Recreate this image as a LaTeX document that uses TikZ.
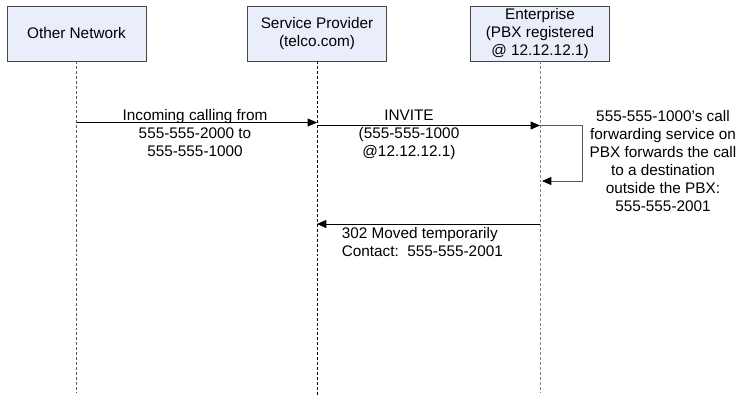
\documentclass[tikz,border=0pt]{standalone}
\usepackage{fontspec}
\setmainfont{Liberation Sans}
\usetikzlibrary{arrows.meta, calc}

\definecolor{boxfill}{RGB}{234,238,250}
\definecolor{boxline}{RGB}{70,70,70}

\tikzset{
	party/.style={draw=boxline, fill=boxfill, minimum width=104pt, minimum height=41pt,
		inner sep=1pt, align=center, font=\fontsize{11.5}{13.5}\selectfont},
	lifeline/.style={dash pattern=on 2.2pt off 1.5pt, line width=0.6pt},
	msg/.style={-{Triangle[length=7pt,width=6pt,color=black]}, line width=0.6pt},
	msgtext/.style={align=center, inner sep=0pt, font=\fontsize{11.5}{13.5}\selectfont}
}

\begin{document}
\begin{tikzpicture}[x=0.75pt, y=-0.75pt, line cap=butt]

\useasboundingbox (0,0) rectangle (745,397);

% Parties
\node[party] (other) at (76.5,33.5) {Other Network};
\node[party] (telco) at (317,33.5) {Service Provider\\(telco.com)};
\node[party] (pbx)   at (540,33.5) {Enterprise\\(PBX registered\\@ 12.12.12.1)};

%Coordinates
\coordinate (otherEnd) at (other.south |- 0,393);
\coordinate (telcoEnd) at (telco.south |- 0,396);
\coordinate (pbxEnd)   at (pbx.south |- 0,393);

\coordinate (m1s) at (other.south |- 0,122.5);
\coordinate (m1e) at (telco.south |- 0,122.5);
\coordinate (m2s) at (telco.south |- 0,125.5);
\coordinate (m2e) at (pbx.south |- 0,125.5);
\coordinate (loopA) at (582,125.5);
\coordinate (loopB) at (582,181);
\coordinate (loopE) at ($(pbx.south |- 0,181)+(2,0)$);
\coordinate (m3s) at (pbx.south |- 0,224);
\coordinate (m3e) at (telco.south |- 0,224);

% Lifelines
\draw[lifeline, gray!70!black] (other.south) -- (otherEnd);
\draw[lifeline, black] (telco.south) -- (telcoEnd);
\draw[lifeline, gray] (pbx.south) -- (pbxEnd);

% Messages
\draw[msg] (m1s) -- (m1e);
\draw[msg] (m2s) -- (m2e);
\draw[msg, draw=gray!70!black] (m2e) -- (loopA) -- (loopB) -- (loopE);
\draw[msg] (m3s) -- (m3e);

% Labels
\node[msgtext] (incoming) at (195,133.5)
	{Incoming calling from\\555-555-2000 to\\555-555-1000};
\node[msgtext] (invite) at (409,135)
	{INVITE\\(555-555-1000\\@12.12.12.1)};
\node[msgtext] (forward) at (663,161.5)
	{555-555-1000’s call\\forwarding service on\\PBX forwards the call\\to a destination\\outside the PBX:\\555-555-2001};
\node[msgtext, align=left, anchor=west] (moved) at (341.5,242)
	{302 Moved temporarily\\Contact:\ \ 555-555-2001};

\end{tikzpicture}
\end{document}
